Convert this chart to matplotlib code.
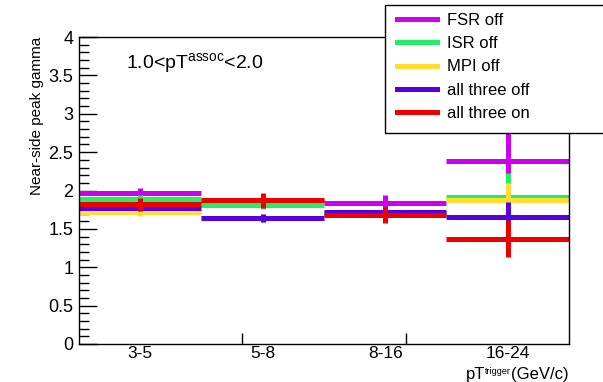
import matplotlib
matplotlib.use("Agg")
import matplotlib.pyplot as plt
from matplotlib.lines import Line2D
from matplotlib.patches import Rectangle
import numpy as np

plt.rcParams['font.family'] = ['Liberation Sans', 'DejaVu Sans']

# data
categories = ['3-5', '5-8', '8-16', '16-24']
labels = ['FSR off', 'ISR off', 'MPI off', 'all three off', 'all three on']
colors = ['#cc00ee', '#22ee66', '#ffdd33', '#5500dd', '#ee0000']

fsr_off = [1.97, 1.85, 1.84, 2.38]
fsr_err = [0.06, 0.05, 0.10, 0.40]
isr_off = [1.89, 1.81, 1.71, 1.91]
isr_err = [0.05, 0.05, 0.05, 0.32]
mpi_off = [1.72, 1.64, 1.70, 1.88]
mpi_err = [0.05, 0.06, 0.05, 0.22]
all_off = [1.77, 1.64, 1.72, 1.655]
all_off_err = [0.04, 0.05, 0.05, 0.20]
all_on = [1.82, 1.87, 1.68, 1.37]
all_on_err = [0.08, 0.10, 0.10, 0.24]

series = [(fsr_off, fsr_err), (isr_off, isr_err), (mpi_off, mpi_err),
          (all_off, all_off_err), (all_on, all_on_err)]

fig = plt.figure(figsize=(6.03, 3.82), dpi=100)
ax = fig.add_axes([0.131, 0.0995, 0.8126, 0.8035])

x = np.arange(len(categories))
for (vals, errs), col in zip(series, colors):
    ax.errorbar(x, vals, xerr=0.5, yerr=errs, fmt='none', ecolor=col,
                elinewidth=3.6, capsize=0)

ax.set_xlim(-0.5, 3.5)
ax.set_ylim(0, 4)

# x axis: labels at bin centres, ROOT-style ticks at 1/3 and 2/3
ax.set_xticks(x)
ax.set_xticklabels(categories, fontsize=12.5)
ax.tick_params(axis='x', which='major', length=0, pad=1.5)
ax.set_xticks([-0.5 + 4 / 3, -0.5 + 8 / 3], minor=True)
ax.tick_params(axis='x', which='minor', direction='in', length=8, width=1)

ax.set_yticks(np.arange(0, 4.01, 0.5))
ax.set_yticklabels(['0', '0.5', '1', '1.5', '2', '2.5', '3', '3.5', '4'], fontsize=13)
ax.set_yticks(np.arange(0, 4.01, 0.1), minor=True)
ax.tick_params(axis='y', which='major', direction='in', length=13, width=1, pad=4)
ax.tick_params(axis='y', which='minor', direction='in', length=7, width=1)

for s in ax.spines.values():
    s.set_linewidth(1)

ax.set_ylabel('Near-side peak gamma', fontsize=11, loc='top', labelpad=3)
ax.text(0.095, 0.955, r'1.0<pT$^{\mathregular{assoc}}$<2.0', transform=ax.transAxes,
        fontsize=14, va='top', ha='left')

# x title in pieces so the small superscript stays clear of the "16-24" label
t_unit = fig.text(0.943, 0.0, '(GeV/c)', fontsize=12, ha='right', va='bottom')
t_sup = ax.annotate('trigger', xy=(0, 0.42), xycoords=t_unit, fontsize=6.5,
                    ha='right', va='bottom', annotation_clip=False)
ax.annotate('pT', xy=(0, 0), xycoords=(t_sup, t_unit), fontsize=12,
            ha='right', va='bottom', annotation_clip=False)

# legend box (extends past the right edge like the original)
fig.patches.append(Rectangle((385 / 603, 1 - 133 / 382), 0.5, 128 / 382,
                             transform=fig.transFigure, facecolor='white',
                             edgecolor='black', linewidth=1, zorder=5))
handles = [Line2D([], [], color=c, lw=3.6) for c in colors]
leg = fig.legend(handles, labels, loc='upper left',
                 bbox_to_anchor=(390 / 603, 1 - 6 / 382), frameon=False,
                 fontsize=12, handlelength=2.4, handletextpad=0.6,
                 labelspacing=0.5, borderaxespad=0)
leg.set_zorder(6)

fig.savefig('out.png', dpi=100)
